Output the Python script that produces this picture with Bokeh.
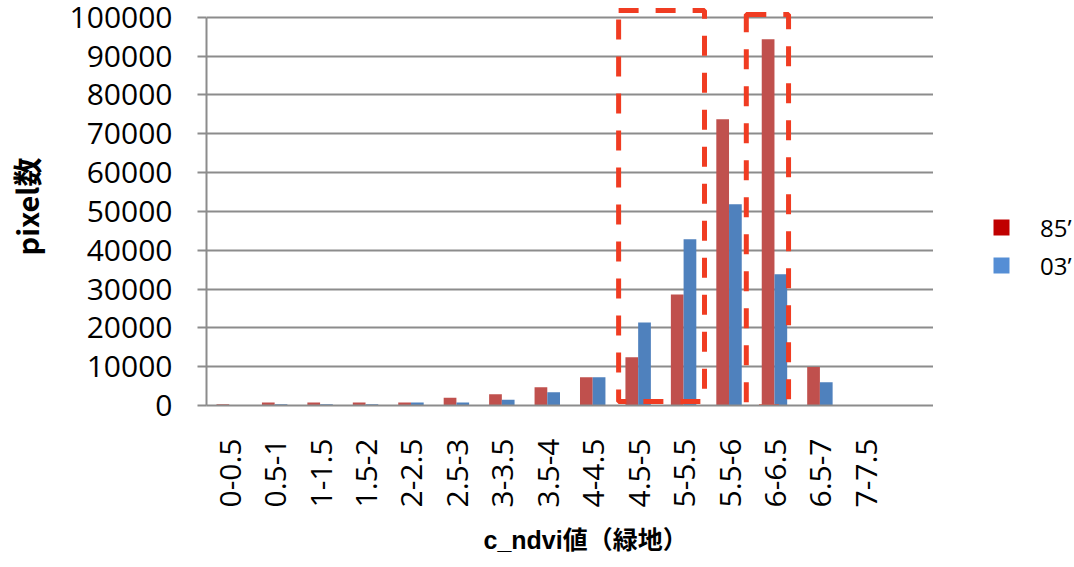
from bokeh.plotting import figure
from bokeh.layouts import row
from bokeh.models import (ColumnDataSource, FactorRange, FixedTicker, Legend, LegendItem,
                          Range1d, NumeralTickFormatter, Title)
from bokeh.transform import dodge
from bokeh.embed import file_html
from bokeh.resources import INLINE

# ---- data ----
categories = ["0-0.5", "0.5-1", "1-1.5", "1.5-2", "2-2.5", "2.5-3", "3-3.5", "3.5-4",
              "4-4.5", "4.5-5", "5-5.5", "5.5-6", "6-6.5", "6.5-7", "7-7.5"]
values_85 = [300, 800, 800, 800, 800, 2000, 2900, 4700, 7300, 12400, 28600, 73700, 94300, 9900, 0]
values_03 = [0, 300, 300, 300, 800, 800, 1500, 3400, 7300, 21400, 42800, 51800, 33800, 6000, 0]
series_names = ["85’", "03’"]
y_ticks = [0, 10000, 20000, 30000, 40000, 50000, 60000, 70000, 80000, 90000, 100000]

# highlighted regions (category units / pixel counts)
box_left = [9.07, 11.88]
box_right = [10.96, 12.81]
box_bottom = [1000, -300]
box_top = [101700, 100700]

BAR_RED = "#c0504d"
BAR_BLUE = "#4f81bd"
LEG_RED = "#c00000"
LEG_BLUE = "#558ed5"
GRID = "#8c8c8c"

source = ColumnDataSource(data=dict(cat=categories, v85=values_85, v03=values_03))

# an empty trailing slot, as in the original chart's plot area
x_factors = categories + [" "]

p = figure(width=933, height=567,
           x_range=FactorRange(*x_factors, range_padding=0),
           y_range=Range1d(0, 102500),
           output_backend="svg", toolbar_location=None,
           min_border_left=206, min_border_right=0,
           min_border_top=7, min_border_bottom=162)
p.outline_line_color = None
p.background_fill_color = "white"
p.border_fill_color = "white"

p.vbar(x=dodge("cat", -0.14, range=p.x_range), top="v85", width=0.28,
       source=source, fill_color=BAR_RED, line_color=None)
p.vbar(x=dodge("cat", 0.14, range=p.x_range), top="v03", width=0.28,
       source=source, fill_color=BAR_BLUE, line_color=None)

p.quad(left=box_left, right=box_right, bottom=box_bottom, top=box_top,
       fill_color=None, line_color="#f03c22", line_width=5, line_dash="20 17")

# grid
p.xgrid.grid_line_color = None
p.ygrid.ticker = FixedTicker(ticks=y_ticks)
p.ygrid.grid_line_color = GRID
p.ygrid.grid_line_width = 2

# y axis
ya = p.yaxis[0]
ya.ticker = FixedTicker(ticks=y_ticks)
ya.formatter = NumeralTickFormatter(format="0")
ya.bounds = (0, 100000)
ya.axis_line_color = GRID
ya.axis_line_width = 2
ya.major_tick_line_color = GRID
ya.major_tick_line_width = 2
ya.major_tick_out = 9
ya.major_tick_in = 0
ya.minor_tick_line_color = None
ya.major_label_standoff = 25
ya.major_label_text_font = "Open Sans"
ya.major_label_text_font_size = "30px"
ya.major_label_text_color = "black"
ya.axis_label = "pixel数"
ya.axis_label_text_font = "Noto Sans CJK JP"
ya.axis_label_text_font_style = "bold"
ya.axis_label_text_font_size = "29px"
ya.axis_label_text_color = "black"
ya.axis_label_standoff = 20

# x axis
xa = p.xaxis[0]
xa.axis_line_color = GRID
xa.axis_line_width = 2
xa.major_tick_line_color = None
xa.major_tick_out = 0
xa.major_tick_in = 0
xa.major_label_orientation = 3.141592653589793 / 2
xa.major_label_standoff = 33
xa.major_label_text_font = "Open Sans"
xa.major_label_text_font_size = "30px"
xa.major_label_text_color = "black"

xtitle = Title(text="c_ndvi値（緑地）", align="left", offset=277, standoff=27,
               text_font="Liberation Sans, Noto Sans CJK JP", text_font_style="bold",
               text_font_size="25px", text_color="black")
p.add_layout(xtitle, "below")

# legend panel (legend swatches use different colours than bars)
pl = figure(width=141, height=567, x_range=Range1d(0, 1), y_range=Range1d(0, 1),
            x_axis_location=None, y_axis_location=None,
            output_backend="svg", toolbar_location=None,
            min_border_left=58, min_border_top=0, min_border_right=0, min_border_bottom=0)
pl.outline_line_color = None
pl.grid.visible = False
legend_src = ColumnDataSource(data=dict(x=[5], top=[5]))
r85 = pl.vbar(x="x", top="top", width=0.5, source=legend_src, fill_color=LEG_RED, line_color=None)
r03 = pl.vbar(x="x", top="top", width=0.5, source=legend_src, fill_color=LEG_BLUE, line_color=None)

legend = Legend(items=[LegendItem(label=series_names[0], renderers=[r85]),
                       LegendItem(label=series_names[1], renderers=[r03])],
                location=(0, 121))
legend.padding = 0
legend.margin = 0
legend.spacing = 0
legend.glyph_width = 20
legend.glyph_height = 20
legend.label_height = 38
legend.label_standoff = 29
legend.label_text_font = "Open Sans"
legend.label_text_font_size = "24px"
legend.label_text_color = "black"
legend.border_line_color = None
legend.background_fill_alpha = 0
pl.add_layout(legend)

layout = row(p, pl)
open("out.html", "w").write(file_html(layout, INLINE))
